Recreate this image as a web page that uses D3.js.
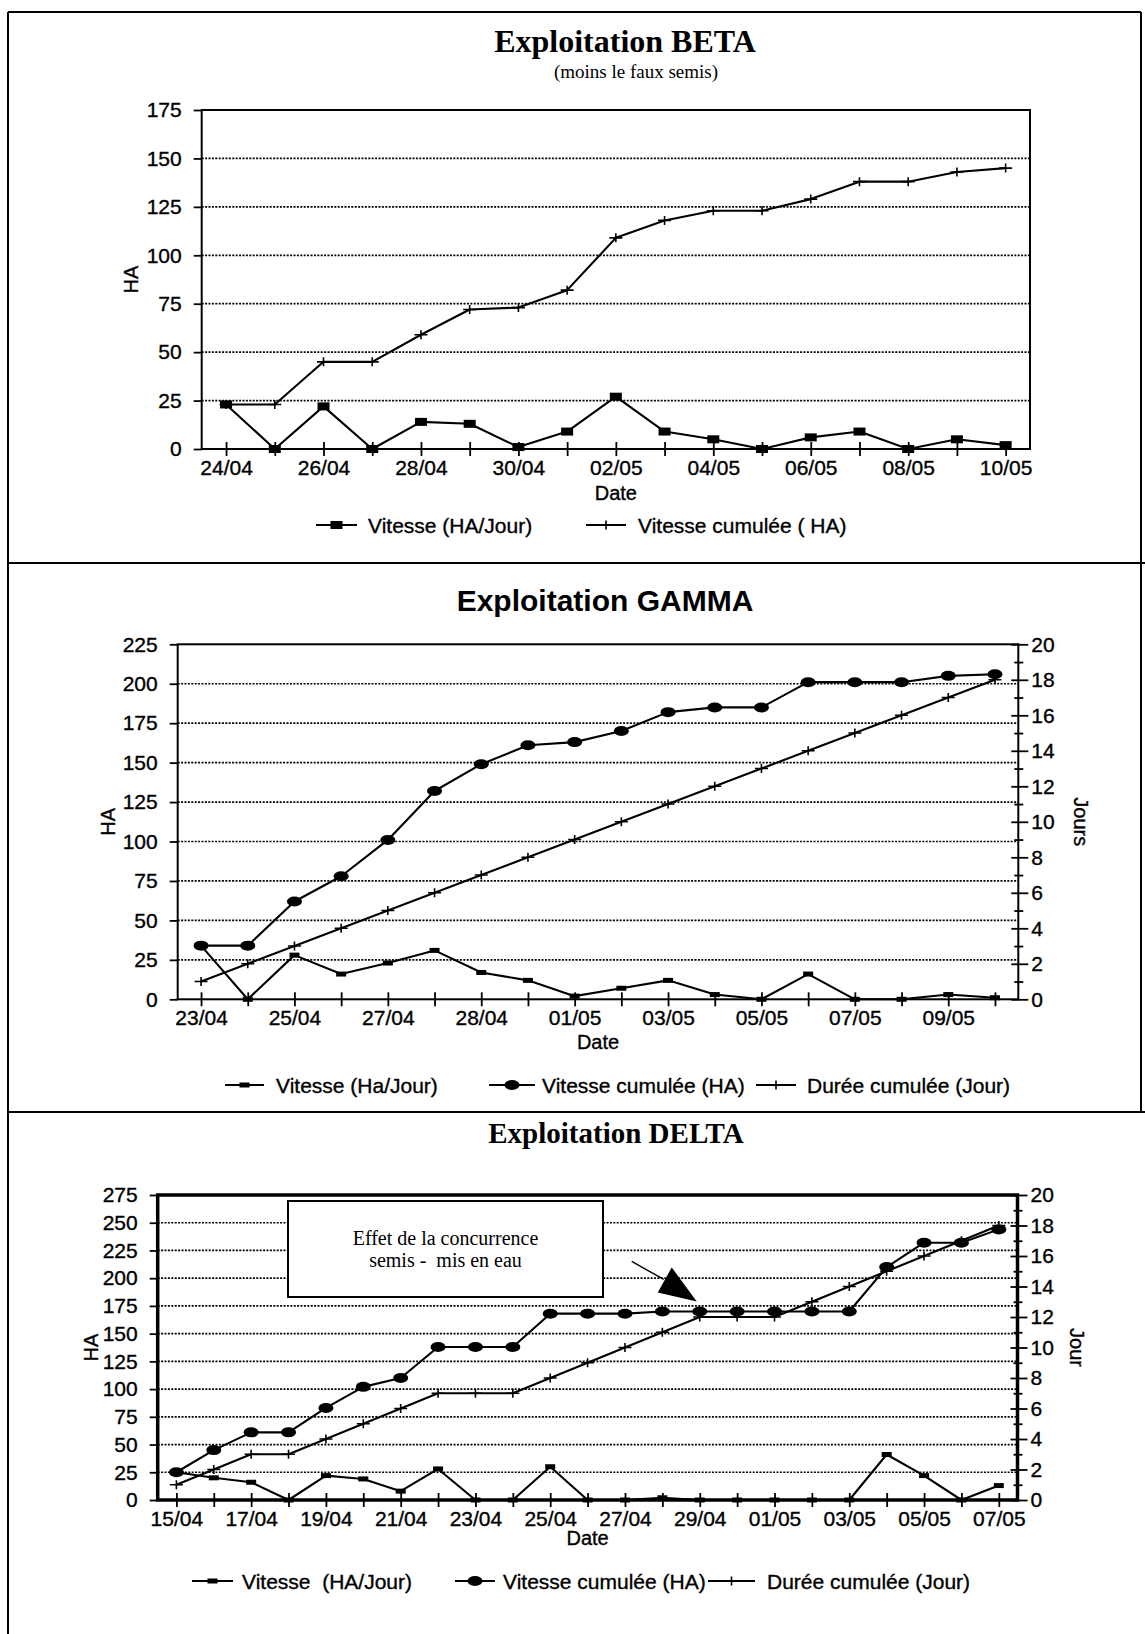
<!DOCTYPE html>
<html>
<head>
<meta charset="utf-8">
<script src="https://cdn.jsdelivr.net/npm/d3@7"></script>
<style>
  html, body { margin: 0; padding: 0; background: #fff; }
  svg { display: block; }
  text { white-space: pre; }
</style>
</head>
<body>
<svg id="chart" width="1145" height="1634"></svg>
<script>
// ---------- Exploitation BETA ----------
const betaDates = ["24/04","25/04","26/04","27/04","28/04","29/04","30/04","01/05","02/05",
                   "03/05","04/05","05/05","06/05","07/05","08/05","09/05","10/05"];
const betaTickLabels = ["24/04","","26/04","","28/04","","30/04","","02/05",
                        "","04/05","","06/05","","08/05","","10/05"];
const betaVitesse = [23, 0, 22, 0, 14, 13, 1, 9, 27, 9, 5, 0, 6, 9, 0, 5, 2];
const betaCumul   = [23, 23, 45, 45, 59, 72, 73, 82, 109, 118, 123, 123, 129, 138, 138, 143, 145];
const betaYTicks  = [0, 25, 50, 75, 100, 125, 150, 175];

// ---------- Exploitation GAMMA ----------
const gammaTickLabels = ["23/04","","25/04","","27/04","","28/04","","01/05",
                         "","03/05","","05/05","","07/05","","09/05",""];
const gammaVitesse = [34, 0, 28, 16, 23, 31, 17, 12, 2, 7, 12, 3, 0, 16, 0, 0, 3, 1];
const gammaCumul   = [34, 34, 62, 78, 101, 132, 149, 161, 163, 170, 182, 185, 185, 201, 201, 201, 205, 206];
const gammaDuree   = [1, 2, 3, 4, 5, 6, 7, 8, 9, 10, 11, 12, 13, 14, 15, 16, 17, 18];
const gammaYTicks  = [0, 25, 50, 75, 100, 125, 150, 175, 200, 225];

// ---------- Exploitation DELTA ----------
const deltaDates = ["15/04","16/04","17/04","18/04","19/04","20/04","21/04","22/04","23/04",
                    "24/04","25/04","26/04","27/04","28/04","29/04","30/04","01/05","02/05",
                    "03/05","04/05","05/05","06/05","07/05"];
const deltaTickLabels = ["15/04","","17/04","","19/04","","21/04","","23/04",
                         "","25/04","","27/04","","29/04","","01/05","",
                         "03/05","","05/05","","07/05"];
const deltaVitesse = [25, 20, 16, 0, 22, 19, 8, 28, 0, 0, 30, 0, 0, 2, 0, 0, 0, 0, 0, 41, 22, 0, 13];
const deltaCumul   = [25, 45, 61, 61, 83, 102, 110, 138, 138, 138, 168, 168, 168, 170, 170, 170,
                      170, 170, 170, 210, 232, 232, 244];
const deltaDuree   = [1, 2, 3, 3, 4, 5, 6, 7, 7, 7, 8, 9, 10, 11, 12, 12, 12, 13, 14, 15, 16, 17, 18];
const deltaYTicks  = [0, 25, 50, 75, 100, 125, 150, 175, 200, 225, 250, 275];

// secondary axis (days)
const jourTicks = d3.range(0, 21);

const SANS = "'Liberation Sans', Arial, Helvetica, sans-serif";
const SERIF = "'Liberation Serif', 'Times New Roman', Times, serif";

const svg = d3.select("#chart");
svg.append("rect").attr("width", 1145).attr("height", 1634).attr("fill", "#fff");

// page frame and panel separators
const frame = svg.append("g").attr("stroke", "#000").attr("stroke-width", 2).attr("fill", "none");
frame.append("line").attr("x1", 8).attr("x2", 8).attr("y1", 12).attr("y2", 1634);
frame.append("line").attr("x1", 1141).attr("x2", 1141).attr("y1", 12).attr("y2", 1112);
frame.append("line").attr("x1", 8).attr("x2", 1141).attr("y1", 12).attr("y2", 12);
frame.append("line").attr("x1", 8).attr("x2", 1145).attr("y1", 563).attr("y2", 563);
frame.append("line").attr("x1", 8).attr("x2", 1145).attr("y1", 1112).attr("y2", 1112);

// slightly heavier sans text, like a printed page
function inkText(sel, size) {
  return sel.attr("font-family", SANS).attr("font-size", size).attr("fill", "#000")
    .attr("stroke", "#000").attr("stroke-width", 0.35);
}

function drawMarker(g, type, cx, cy) {
  if (type === "square") {
    g.append("rect").attr("x", cx - 6).attr("y", cy - 4).attr("width", 12).attr("height", 8).attr("fill", "#000");
  } else if (type === "smallRect") {
    g.append("rect").attr("x", cx - 5).attr("y", cy - 2.5).attr("width", 10).attr("height", 5).attr("fill", "#000");
  } else if (type === "ellipse") {
    g.append("ellipse").attr("cx", cx).attr("cy", cy).attr("rx", 7.5).attr("ry", 5).attr("fill", "#000");
  } else if (type === "plus") {
    g.append("path").attr("d", `M${cx - 6.5},${cy}H${cx + 6.5}M${cx},${cy - 4.5}V${cy + 4.5}`)
      .attr("stroke", "#000").attr("stroke-width", 1.6).attr("fill", "none");
  }
}

function drawPanel(p) {
  const g = svg.append("g");
  const n = p.tickLabels.length;
  const x = d3.scalePoint().domain(d3.range(n)).range([p.left, p.right]).padding(0.5);
  const yL = d3.scaleLinear().domain([0, p.yMax]).range([p.bottom, p.top]);
  const yR = p.rightAxis ? d3.scaleLinear().domain([0, 20]).range([p.bottom, p.top]) : null;

  // dotted horizontal gridlines
  g.append("g").selectAll("line")
    .data(p.yTicks.filter(v => v > 0 && v < p.yMax))
    .join("line")
    .attr("x1", p.left).attr("x2", p.right)
    .attr("y1", d => yL(d)).attr("y2", d => yL(d))
    .attr("stroke", "#000").attr("stroke-width", 1.7).attr("stroke-dasharray", "2,1.4");

  // left axis
  const ga = g.append("g").attr("transform", `translate(${p.left},0)`)
    .call(d3.axisLeft(yL).tickValues(p.yTicks).tickSize(8).tickPadding(12).tickFormat(d3.format("d")));
  ga.select(".domain").remove();
  ga.selectAll(".tick line").attr("stroke", "#000").attr("stroke-width", 1.8);
  inkText(ga.selectAll(".tick text"), 21);

  // bottom axis with ticks crossing the line
  const gx = g.append("g").attr("transform", `translate(0,${p.bottom})`)
    .call(d3.axisBottom(x).tickSize(7).tickFormat(i => p.tickLabels[i]));
  gx.select(".domain").remove();
  gx.selectAll(".tick line").attr("y1", -7).attr("y2", 7).attr("stroke", "#000").attr("stroke-width", 1.8);
  inkText(gx.selectAll(".tick text").attr("y", 11).attr("dy", "0.71em"), 21);

  // right axis (days)
  if (yR) {
    const gr = g.append("g").attr("transform", `translate(${p.right},0)`)
      .call(d3.axisRight(yR).tickValues(jourTicks).tickSize(8).tickFormat(d => d % 2 === 0 ? d : ""));
    gr.select(".domain").remove();
    gr.selectAll(".tick line")
      .attr("x1", d => d % 2 === 0 ? -7 : -4)
      .attr("x2", d => d % 2 === 0 ? 10 : 5)
      .attr("stroke", "#000").attr("stroke-width", 1.8);
    inkText(gr.selectAll(".tick text").attr("x", 13), 21);
  }

  // plot frame
  g.append("rect").attr("x", p.left).attr("y", p.top)
    .attr("width", p.right - p.left).attr("height", p.bottom - p.top)
    .attr("fill", "none").attr("stroke", "#000").attr("stroke-width", p.frameWidth);

  // annotation drawn under the series
  if (p.annotation) p.annotation(g, x, yL);

  // series
  p.series.forEach(s => {
    const yy = s.axis === "R" ? yR : yL;
    const line = d3.line().x((d, i) => x(i)).y(d => yy(d));
    g.append("path").datum(s.values).attr("d", line)
      .attr("fill", "none").attr("stroke", "#000").attr("stroke-width", 2.1).attr("stroke-linejoin", "round");
    const mg = g.append("g");
    s.values.forEach((v, i) => drawMarker(mg, s.marker, x(i), yy(v)));
  });

  // axis titles
  inkText(g.append("text").attr("x", (p.left + p.right) / 2).attr("y", p.dateY)
    .attr("text-anchor", "middle").attr("dominant-baseline", "central"), 20).text("Date");
  inkText(g.append("text").attr("transform", `translate(${p.haX},${(p.top + p.bottom) / 2}) rotate(-90)`)
    .attr("text-anchor", "middle").attr("dominant-baseline", "central"), 20).text("HA");
  if (p.rightTitle) {
    inkText(g.append("text").attr("transform", `translate(${p.rightTitleX},${(p.top + p.bottom) / 2}) rotate(90)`)
      .attr("text-anchor", "middle").attr("dominant-baseline", "central"), 20).text(p.rightTitle);
  }

  // legend
  const lg = g.append("g");
  p.legend.forEach(it => {
    lg.append("line").attr("x1", it.x0).attr("x2", it.x1).attr("y1", p.legendY).attr("y2", p.legendY)
      .attr("stroke", "#000").attr("stroke-width", 2.1);
    drawMarker(lg, it.marker, (it.x0 + it.x1) / 2, p.legendY);
    inkText(lg.append("text").attr("x", it.tx).attr("y", p.legendY).attr("dominant-baseline", "central"), 21)
      .text(it.text);
  });
}

// ---------- BETA ----------
svg.append("text").attr("x", 625).attr("y", 52).attr("text-anchor", "middle")
  .attr("font-family", SERIF).attr("font-weight", "bold").attr("font-size", 32).text("Exploitation BETA");
svg.append("text").attr("x", 636).attr("y", 78).attr("text-anchor", "middle")
  .attr("font-family", SERIF).attr("font-size", 19).text("(moins le faux semis)");

drawPanel({
  left: 201.7, right: 1030, top: 110, bottom: 449, frameWidth: 2,
  yMax: 175, yTicks: betaYTicks, tickLabels: betaTickLabels,
  series: [
    { values: betaCumul, axis: "L", marker: "plus" },
    { values: betaVitesse, axis: "L", marker: "square" }
  ],
  dateY: 493, haX: 131,
  legendY: 525,
  legend: [
    { marker: "square", x0: 316, x1: 357, tx: 368, text: "Vitesse (HA/Jour)" },
    { marker: "plus", x0: 586, x1: 626, tx: 638, text: "Vitesse cumulée ( HA)" }
  ]
});

// ---------- GAMMA ----------
svg.append("text").attr("x", 605).attr("y", 611).attr("text-anchor", "middle")
  .attr("font-family", SANS).attr("font-weight", "bold").attr("font-size", 30).text("Exploitation GAMMA");

drawPanel({
  left: 177.7, right: 1018.3, top: 644.3, bottom: 999.3, frameWidth: 2,
  yMax: 225, yTicks: gammaYTicks, tickLabels: gammaTickLabels,
  rightAxis: true, rightTitle: "Jours", rightTitleX: 1081,
  series: [
    { values: gammaDuree, axis: "R", marker: "plus" },
    { values: gammaCumul, axis: "L", marker: "ellipse" },
    { values: gammaVitesse, axis: "L", marker: "smallRect" }
  ],
  dateY: 1042, haX: 108,
  legendY: 1085,
  legend: [
    { marker: "smallRect", x0: 225, x1: 264, tx: 276, text: "Vitesse (Ha/Jour)" },
    { marker: "ellipse", x0: 489, x1: 535, tx: 542, text: "Vitesse cumulée (HA)" },
    { marker: "plus", x0: 756, x1: 796, tx: 807, text: "Durée cumulée (Jour)" }
  ]
});

// ---------- DELTA ----------
svg.append("text").attr("x", 616).attr("y", 1143).attr("text-anchor", "middle")
  .attr("font-family", SERIF).attr("font-weight", "bold").attr("font-size", 29).text("Exploitation DELTA");

drawPanel({
  left: 157.7, right: 1017.5, top: 1195, bottom: 1500, frameWidth: 3.5,
  yMax: 275, yTicks: deltaYTicks, tickLabels: deltaTickLabels,
  rightAxis: true, rightTitle: "Jour", rightTitleX: 1077,
  series: [
    { values: deltaDuree, axis: "R", marker: "plus" },
    { values: deltaCumul, axis: "L", marker: "ellipse" },
    { values: deltaVitesse, axis: "L", marker: "smallRect" }
  ],
  dateY: 1538, haX: 91,
  legendY: 1581,
  legend: [
    { marker: "smallRect", x0: 192, x1: 233, tx: 242, text: "Vitesse  (HA/Jour)" },
    { marker: "ellipse", x0: 455, x1: 495, tx: 503, text: "Vitesse cumulée (HA)" },
    { marker: "plus", x0: 708, x1: 755, tx: 767, text: "Durée cumulée (Jour)" }
  ],
  annotation: (g, x, y) => {
    // note box
    g.append("rect").attr("x", 288).attr("y", 1201).attr("width", 315).attr("height", 96)
      .attr("fill", "#fff").attr("stroke", "#000").attr("stroke-width", 2);
    g.append("text").attr("x", 445.5).attr("y", 1238).attr("text-anchor", "middle")
      .attr("dominant-baseline", "central").attr("font-family", SERIF).attr("font-size", 20)
      .text("Effet de la concurrence");
    g.append("text").attr("x", 445.5).attr("y", 1260).attr("text-anchor", "middle")
      .attr("dominant-baseline", "central").attr("font-family", SERIF).attr("font-size", 20)
      .text("semis -  mis en eau");
    // arrow pointing at the plateau of 29/04
    const tx = x(deltaDates.indexOf("29/04")) - 3;
    const ty = y(deltaCumul[deltaDates.indexOf("29/04")]) - 10;
    g.append("line").attr("x1", tx - 65).attr("y1", ty - 40).attr("x2", tx - 33).attr("y2", ty - 22)
      .attr("stroke", "#000").attr("stroke-width", 1.4);
    g.append("path").attr("d", `M${tx},${ty}L${tx - 25},${ty - 34}L${tx - 39},${ty - 9}Z`).attr("fill", "#000");
  }
});
</script>
</body>
</html>
